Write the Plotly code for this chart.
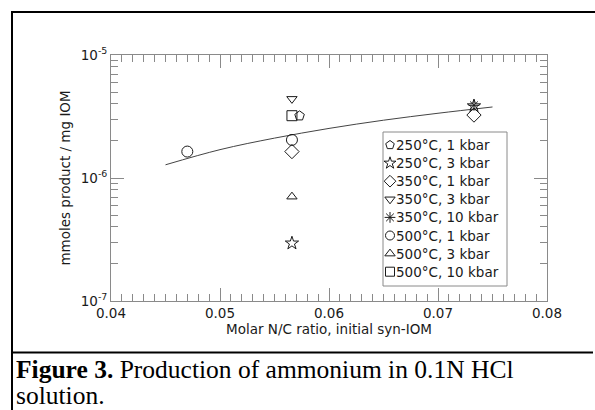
import plotly.graph_objects as go

# ---------------- data ----------------
series_names = ["250°C, 1 kbar", "250°C, 3 kbar", "350°C, 1 kbar", "350°C, 3 kbar",
                "350°C, 10 kbar", "500°C, 1 kbar", "500°C, 3 kbar", "500°C, 10 kbar"]
x_250_1 = [0.0573]
y_250_1 = [3.20e-6]
x_250_3 = [0.0566, 0.0733]
y_250_3 = [2.95e-7, 3.85e-6]
x_350_1 = [0.0566, 0.0733]
y_350_1 = [1.64e-6, 3.25e-6]
x_350_3 = [0.0566]
y_350_3 = [4.40e-6]
x_350_10 = [0.0733]
y_350_10 = [3.90e-6]
x_500_1 = [0.0470, 0.0566]
y_500_1 = [1.64e-6, 2.04e-6]
x_500_3 = [0.0566]
y_500_3 = [7.05e-7]
x_500_10 = [0.0566]
y_500_10 = [3.21e-6]

fit_x = [0.045, 0.050, 0.055, 0.060, 0.065, 0.070, 0.075]
fit_y = [1.28e-6, 1.70e-6, 2.11e-6, 2.53e-6, 2.95e-6, 3.36e-6, 3.78e-6]

x_ticks = [0.04, 0.05, 0.06, 0.07, 0.08]
x_ticktext = ["0.04", "0.05", "0.06", "0.07", "0.08"]
y_ticks = [1e-7, 1e-6, 1e-5]
y_ticktext = ["10<sup>-7</sup>", "10<sup>-6</sup>", "10<sup>-5</sup>"]

# ---------------- layout geometry (pixels) ----------------
W, H = 595, 410
L, R, T, B = 111, 547, 55, 301
PW, PH = R - L, B - T

def px(x):
    return (x - L) / PW

def py(y):
    return (B - y) / PH

INK = "#1a1a1a"
AX = "#8a8a8a"
FONT = "DejaVu Sans"
FS = 13.5
CAP_FS = 25.5

symbols = ["pentagon-open", "star-open", "diamond-open", "triangle-down-open",
           "asterisk-open", "circle-open", "triangle-up-open", "square-open"]
sizes = [10, 10, 11, 9, 9, 11, 9, 10]
xs = [x_250_1, x_250_3, x_350_1, x_350_3, x_350_10, x_500_1, x_500_3, x_500_10]
ys = [y_250_1, y_250_3, y_350_1, y_350_3, y_350_10, y_500_1, y_500_3, y_500_10]

fig = go.Figure()

fig.add_trace(go.Scatter(x=fit_x, y=fit_y, mode="lines", name="fit",
                         line=dict(color="#444444", width=1, shape="spline", smoothing=1),
                         showlegend=False))

for name, sym, sz, xv, yv in zip(series_names, symbols, sizes, xs, ys):
    fig.add_trace(go.Scatter(
        x=xv, y=yv, mode="markers", name=name, showlegend=False,
        marker=dict(symbol=sym, size=sz, color=INK, line=dict(color=INK, width=1))))

# manual legend: symbols on an overlay pixel axis
leg_x0, leg_x1, leg_y0, leg_y1 = 383, 507, 132, 286
row0, row_step = 145, 18.1
sym_x, text_x = 390, 394
for i, (name, sym) in enumerate(zip(series_names, symbols)):
    fig.add_trace(go.Scatter(
        x=[sym_x], y=[row0 + i * row_step], xaxis="x2", yaxis="y2",
        mode="markers", showlegend=False, hoverinfo="skip",
        marker=dict(symbol=sym, size=9, color=INK, line=dict(color=INK, width=1))))
    fig.add_annotation(x=px(text_x), y=py(row0 + i * row_step), xref="paper", yref="paper",
                       text=name, showarrow=False, xanchor="left", yanchor="middle",
                       font=dict(family=FONT, size=FS, color=INK))

shapes = [
    dict(type="rect", xref="paper", yref="paper", x0=px(leg_x0), x1=px(leg_x1),
         y0=py(leg_y0), y1=py(leg_y1), line=dict(color=AX, width=1), fillcolor="rgba(0,0,0,0)"),
    # outer frame
    dict(type="line", xref="paper", yref="paper", x0=px(11), x1=px(595), y0=py(12), y1=py(12),
         line=dict(color="black", width=2)),
    dict(type="line", xref="paper", yref="paper", x0=px(12), x1=px(12), y0=py(11), y1=py(412),
         line=dict(color="black", width=2)),
    dict(type="line", xref="paper", yref="paper", x0=px(11), x1=px(593), y0=py(352.5), y1=py(352.5),
         line=dict(color="black", width=2)),
]

# caption
fig.add_annotation(x=px(14), y=py(369), xref="paper", yref="paper", showarrow=False,
                   xanchor="left", yanchor="middle",
                   text="<b>Figure 3.</b> Production of ammonium in 0.1N HCl",
                   font=dict(family="Liberation Serif", size=CAP_FS, color="black"))
fig.add_annotation(x=px(14), y=py(395.5), xref="paper", yref="paper", showarrow=False,
                   xanchor="left", yanchor="middle", text="solution.",
                   font=dict(family="Liberation Serif", size=CAP_FS, color="black"))

fig.update_layout(
    width=W, height=H,
    margin=dict(l=L, r=W - R, t=T, b=H - B, pad=0),
    paper_bgcolor="white", plot_bgcolor="white",
    font=dict(family=FONT, size=FS, color=INK),
    shapes=shapes,
    showlegend=False,
    xaxis=dict(range=[0.04, 0.08], tickmode="array", tickvals=x_ticks, ticktext=x_ticktext,
               ticks="inside", ticklen=13, tickwidth=1, tickcolor=AX,
               showline=True, linecolor=AX, linewidth=1, mirror="ticks",
               showgrid=False, zeroline=False,
               minor=dict(ticks="inside", ticklen=7, tickwidth=1, tickcolor=AX, dtick=0.001,
                          tick0=0.04, showgrid=False),
               title=dict(text="Molar N/C ratio, initial syn-IOM", standoff=2,
                          font=dict(family=FONT, size=FS, color=INK)),
               automargin=False),
    yaxis=dict(type="log", range=[-7, -5], tickmode="array", tickvals=y_ticks, ticktext=y_ticktext,
               ticks="inside", ticklen=13, tickwidth=1, tickcolor=AX,
               showline=True, linecolor=AX, linewidth=1, mirror="ticks",
               showgrid=False, zeroline=False,
               minor=dict(ticks="inside", ticklen=7, tickwidth=1, tickcolor=AX,
                          tickvals=[k * 10.0 ** e for e in (-7, -6) for k in range(2, 10)],
                          showgrid=False),
               title=dict(text="mmoles product / mg IOM", standoff=6,
                          font=dict(family=FONT, size=FS, color=INK)),
               automargin=False),
    xaxis2=dict(overlaying="x", range=[L, R], visible=False, fixedrange=True),
    yaxis2=dict(overlaying="y", range=[B, T], visible=False, fixedrange=True),
)

fig.write_html("out.html")
